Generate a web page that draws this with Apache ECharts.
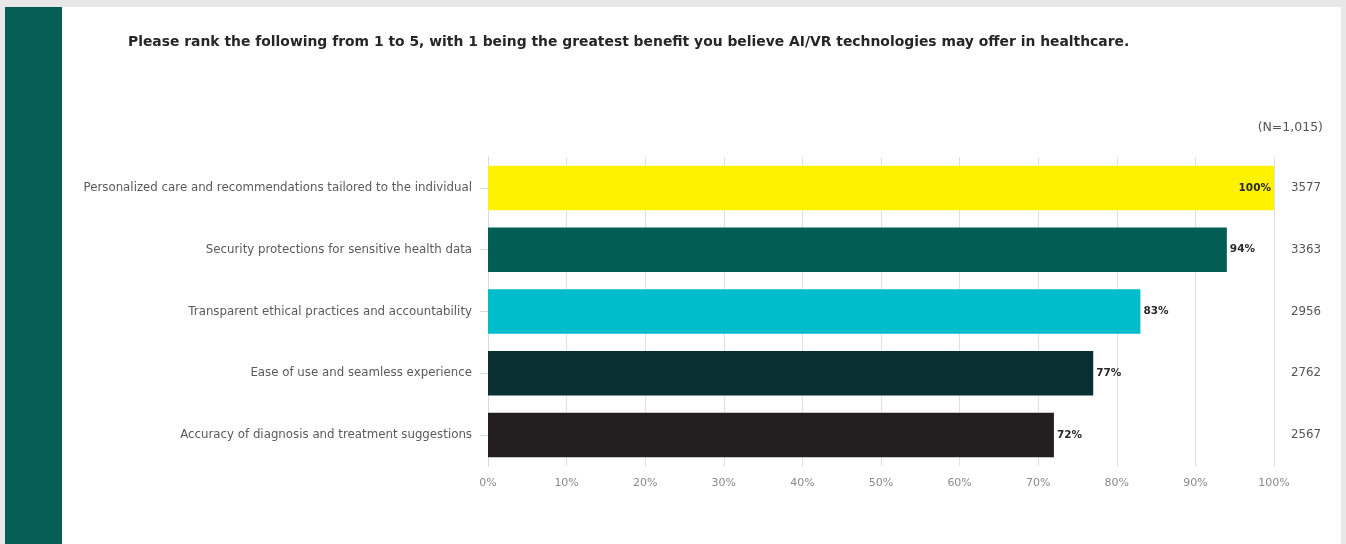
<!DOCTYPE html>
<html>
<head>
<meta charset="utf-8">
<script src="https://cdn.jsdelivr.net/npm/echarts@6/dist/echarts.min.js"></script>
<style>
  html, body { margin: 0; padding: 0; background: #e8e8e8; }
  #chart { width: 1346px; height: 544px; }
</style>
</head>
<body>
<div id="chart"></div>
<script>
// Survey: benefits of AI/VR in healthcare, ranked
const categories = [
  'Personalized care and recommendations tailored to the individual',
  'Security protections for sensitive health data',
  'Transparent ethical practices and accountability',
  'Ease of use and seamless experience',
  'Accuracy of diagnosis and treatment suggestions'
];
const percents = [100, 94, 83, 77, 72];
const scores = ['3577', '3363', '2956', '2762', '2567'];
const barColors = ['#fff200', '#025e55', '#00bdcc', '#0a2f31', '#231f20'];
const xTicks = [0, 10, 20, 30, 40, 50, 60, 70, 80, 90, 100];
const titleText = 'Please rank the following from 1 to 5, with 1 being the greatest benefit you believe AI/VR technologies may offer in healthcare.';
const sampleNote = '(N=1,015)';

const chart = echarts.init(document.getElementById('chart'), null, { renderer: 'canvas' });
const FONT = '"DejaVu Sans", "Open Sans", sans-serif';

chart.setOption({
  animation: false,
  backgroundColor: 'transparent',
  textStyle: { fontFamily: FONT },
  graphic: [
    { type: 'rect', z: -10, silent: true, shape: { x: 62, y: 7, width: 1279, height: 537 }, style: { fill: '#ffffff' } },
    { type: 'rect', z: -10, silent: true, shape: { x: 5, y: 7, width: 57, height: 537 }, style: { fill: '#045e53' } },
    { type: 'text', left: 128, top: 35, style: { text: titleText, fill: '#262626', font: 'bold 13.9px ' + FONT } },
    { type: 'text', right: 23, top: 121, style: { text: sampleNote, fill: '#555555', font: '12.5px ' + FONT } }
  ],
  grid: { left: 488, right: 72, top: 157, bottom: 78, containLabel: false },
  xAxis: {
    type: 'value',
    min: xTicks[0],
    max: xTicks[xTicks.length - 1],
    interval: 10,
    axisLine: { show: false },
    axisTick: { show: false },
    splitLine: { show: true, lineStyle: { color: '#dde1e6', width: 1 } },
    axisLabel: { formatter: '{value}%', color: '#8a8a8a', fontSize: 11, margin: 12, fontFamily: FONT }
  },
  yAxis: [
    {
      type: 'category',
      data: categories,
      inverse: true,
      axisLine: { show: true, lineStyle: { color: '#d3dbe6', width: 1 } },
      axisTick: { show: true, alignWithLabel: true, length: 8, lineStyle: { color: '#d3dbe6' } },
      axisLabel: { color: '#5a5a5a', fontSize: 11.8, margin: 16, fontFamily: FONT }
    },
    {
      type: 'category',
      data: scores,
      inverse: true,
      position: 'right',
      axisLine: { show: false },
      axisTick: { show: false },
      axisLabel: { color: '#555555', fontSize: 11.8, margin: 17, fontFamily: FONT, align: 'left' }
    }
  ],
  series: [{
    type: 'bar',
    yAxisIndex: 0,
    barCategoryGap: '28%',
    data: percents.map((v, i) => ({
      value: v,
      itemStyle: { color: barColors[i] },
      label: i === 0
        ? { position: 'insideRight', distance: 3 }
        : { position: 'right', distance: 3 }
    })),
    label: {
      show: true,
      formatter: '{c}%',
      color: '#2a2a2a',
      fontWeight: 'bold',
      fontSize: 10.5,
      fontFamily: FONT
    }
  }]
});
</script>
</body>
</html>
